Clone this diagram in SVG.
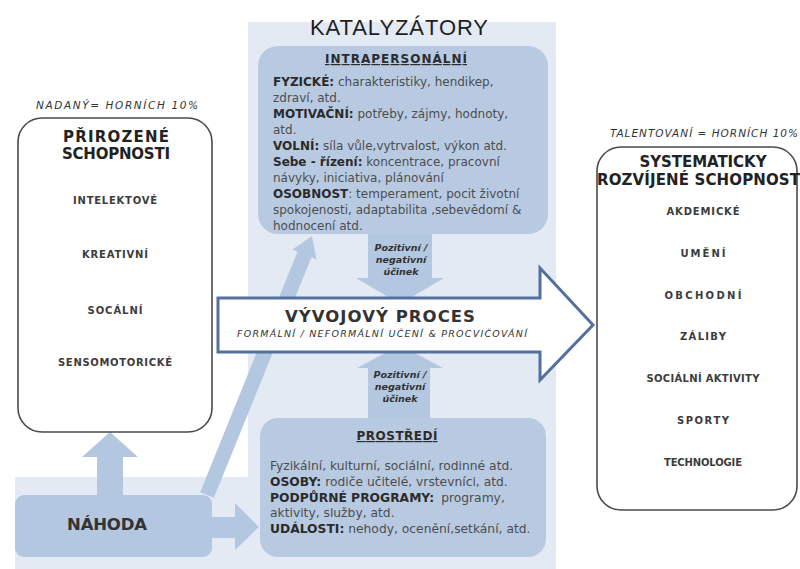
<svg xmlns="http://www.w3.org/2000/svg" width="800" height="569" viewBox="0 0 800 569">
<defs>
<style>
text{font-family:"DejaVu Sans",Verdana,"Liberation Sans",sans-serif;}
.panel{fill:#e3eaf4}
.blue{fill:#b8cae2}
.arr{fill:#b4c7e0}
.wbox{fill:#ffffff;stroke:#4a4a4a;stroke-width:1.6}
.big{fill:#ffffff;stroke:#52719f;stroke-width:3;stroke-linejoin:miter}
.body{font-size:12px;fill:#4d4d4d}
.pbody{font-size:12.3px;fill:#4d4d4d}
.b{font-weight:bold;fill:#2b2b2b}
.item{font-size:10px;font-weight:bold;fill:#3c3c3c;text-anchor:middle}
.hdr{font-size:15px;font-weight:bold;fill:#222222;text-anchor:middle}
.eff{font-size:9.5px;font-weight:bold;font-style:italic;fill:#333333;text-anchor:middle}
.note{font-size:10.5px;font-style:italic;fill:#333333}
.sub{font-weight:bold;fill:#2b2b2b;text-anchor:middle;text-decoration:underline}
</style>
</defs>
<rect width="800" height="569" fill="#ffffff"/>
<g id="background">
<rect class="panel" x="248" y="22" width="308" height="547"/>
<rect class="panel" x="15" y="477" width="541" height="92"/>
</g>
<g id="connectors">
<polygon class="arr" points="200.1,492.2 297.5,251.7 292.5,249.6 312,236 316.5,259.4 311.5,257.3 213.9,497.8"/>
<polygon class="arr" points="97,497 97,457 82,457 110,432 138,457 123,457 123,497"/>
<polygon class="arr" points="205,517 235,517 235,503 259,527 235,550 235,538 205,538"/>
<polygon class="arr" points="368,225 432,225 432,278 444,278 400,304 356,278 368,278"/>
<polygon class="arr" points="368,425 368,368 357,368 400,345 443,368 430,368 430,425"/>
<text class="eff" x="401" y="251">Pozitivní /</text>
<text class="eff" x="401" y="263">negativní</text>
<text class="eff" x="401" y="275">účinek</text>
<text class="eff" x="400" y="378">Pozitivní /</text>
<text class="eff" x="400" y="390">negativní</text>
<text class="eff" x="400" y="402">účinek</text>
</g>
<g id="katalyzatory">
<text x="399" y="35" font-size="22" fill="#1e1e1e" text-anchor="middle" textLength="178" style="font-family:'Liberation Sans',Arial,sans-serif">KATALYZÁTORY</text>
</g>
<g id="intrapersonalni">
<rect class="blue" x="258" y="46" width="290" height="188" rx="20"/>
<text class="sub" x="396" y="63" font-size="12" textLength="142">INTRAPERSONÁLNÍ</text>
<text class="body" x="273" y="86"><tspan class="b">FYZICKÉ:</tspan> charakteristiky, hendikep,</text>
<text class="body" x="273" y="102">zdraví, atd.</text>
<text class="body" x="273" y="118"><tspan class="b">MOTIVAČNÍ:</tspan> potřeby, zájmy, hodnoty,</text>
<text class="body" x="273" y="134">atd.</text>
<text class="body" x="273" y="150"><tspan class="b">VOLNÍ:</tspan> síla vůle,vytrvalost, výkon atd.</text>
<text class="body" x="273" y="166"><tspan class="b">Sebe - řízení:</tspan> koncentrace, pracovní</text>
<text class="body" x="273" y="182">návyky, iniciativa, plánování</text>
<text class="body" x="273" y="198"><tspan class="b">OSOBNOST</tspan>: temperament, pocit životní</text>
<text class="body" x="273" y="214">spokojenosti, adaptabilita ,sebevědomí &amp;</text>
<text class="body" x="273" y="230">hodnocení atd.</text>
</g>
<g id="vyvojovy-proces">
<polygon class="big" points="218,298 540,298 540,268 593,325 540,380 540,352 218,352"/>
<text x="380" y="322" font-size="16.5" font-weight="bold" fill="#333333" text-anchor="middle" textLength="190">VÝVOJOVÝ PROCES</text>
<text x="382" y="337" font-size="9.5" font-style="italic" fill="#333333" text-anchor="middle" textLength="290">FORMÁLNÍ / NEFORMÁLNÍ UČENÍ &amp; PROCVIČOVÁNÍ</text>
</g>
<g id="prostredi">
<rect class="blue" x="260" y="418" width="286" height="139" rx="18"/>
<text class="sub" x="397" y="440" font-size="12" textLength="81">PROSTŘEDÍ</text>
<text class="pbody" x="270" y="470">Fyzikální, kulturní, sociální, rodinné atd.</text>
<text class="pbody" x="270" y="486"><tspan class="b">OSOBY:</tspan> rodiče učitelé, vrstevníci, atd.</text>
<text class="pbody" x="270" y="502"><tspan class="b">PODPŮRNÉ PROGRAMY:</tspan><tspan dx="7">programy,</tspan></text>
<text class="pbody" x="270" y="517">aktivity, služby, atd.</text>
<text class="pbody" x="270" y="533"><tspan class="b">UDÁLOSTI:</tspan> nehody, ocenění,setkání, atd.</text>
</g>
<g id="nahoda">
<rect class="arr" x="15" y="495" width="197" height="62" rx="9"/>
<text x="107" y="530" font-size="16.5" font-weight="bold" fill="#333333" text-anchor="middle" textLength="80">NÁHODA</text>
</g>
<g id="prirozene-schopnosti">
<text class="note" x="117" y="109" text-anchor="middle" textLength="162">NADANÝ= HORNÍCH 10%</text>
<rect class="wbox" x="18" y="118" width="194" height="314" rx="24"/>
<text class="hdr" x="116" y="142" textLength="106">PŘIROZENÉ</text>
<text class="hdr" x="116" y="159" textLength="108">SCHOPNOSTI</text>
<text class="item" x="115" y="204" textLength="84">INTELEKTOVÉ</text>
<text class="item" x="115" y="258" textLength="66">KREATIVNÍ</text>
<text class="item" x="115" y="314" textLength="55">SOCÁLNÍ</text>
<text class="item" x="115" y="366" textLength="114">SENSOMOTORICKÉ</text>
</g>
<g id="systematicky-rozvijene-schopnosti">
<text class="note" x="610" y="137" textLength="188">TALENTOVANÍ = HORNÍCH 10%</text>
<rect class="wbox" x="597" y="147" width="200" height="363" rx="24"/>
<text class="hdr" x="703" y="167" textLength="127">SYSTEMATICKY</text>
<text class="hdr" x="597" y="185" style="text-anchor:start" textLength="203">ROZVÍJENÉ SCHOPNOST</text>
<text class="item" x="703" y="215" textLength="73">AKDEMICKÉ</text>
<text class="item" x="703" y="257" textLength="45">UMĚNÍ</text>
<text class="item" x="703" y="299" textLength="77">OBCHODNÍ</text>
<text class="item" x="703" y="340" textLength="46">ZÁLIBY</text>
<text class="item" x="703" y="382" textLength="113">SOCIÁLNÍ AKTIVITY</text>
<text class="item" x="703" y="424" textLength="52">SPORTY</text>
<text class="item" x="703" y="466" textLength="78">TECHNOLOGIE</text>
</g>
</svg>
